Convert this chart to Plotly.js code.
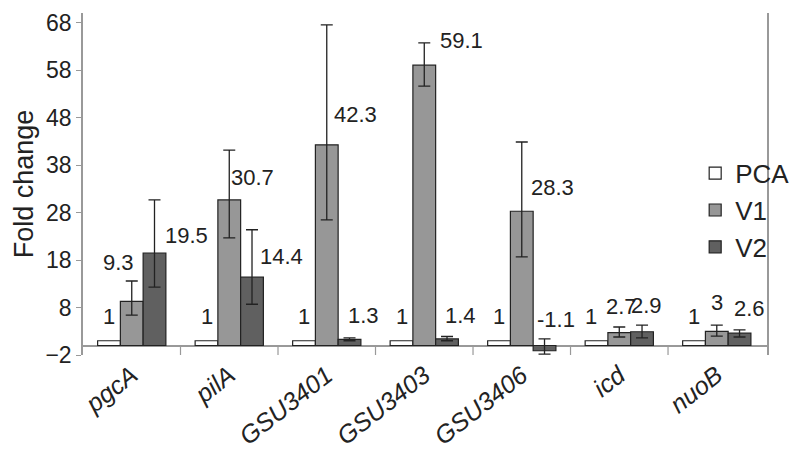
<!DOCTYPE html>
<html><head><meta charset="utf-8">
<script src="https://cdn.plot.ly/plotly-3.0.0.min.js"></script>
<style>body{margin:0;background:#fff}</style>
</head><body>
<div id="chart" style="width:807px;height:464px"></div>
<script>
const genes = ['pgcA', 'pilA', 'GSU3401', 'GSU3403', 'GSU3406', 'icd', 'nuoB'];
const pca = [1, 1, 1, 1, 1, 1, 1];
const v1 = [9.3, 30.7, 42.3, 59.1, 28.3, 2.7, 3];
const v1Plus = [4.3, 10.5, 25.3, 4.7, 14.6, 1.2, 1.3];
const v1Minus = [2.9, 8.0, 15.8, 4.4, 9.6, 0.9, 1.0];
const v2 = [19.5, 14.4, 1.3, 1.4, -1.1, 2.9, 2.6];
const v2Plus = [11.2, 10.0, 0.3, 0.5, 2.5, 1.4, 0.7];
const v2Minus = [7.2, 5.7, 0.3, 0.4, 0.7, 1.3, 0.8];

const font = 'Liberation Sans, Arial, sans-serif';
const ticks = genes.map(g => '<i>' + g + '</i>');

function series(name, y, plus, minus, color) {
  const t = {
    type: 'bar', name: name, x: genes, y: y,
    marker: {color: color, line: {color: '#222', width: 1.2}}
  };
  if (plus) t.error_y = {type: 'data', symmetric: false, array: plus, arrayminus: minus,
    visible: true, color: '#222', thickness: 1.3, width: 6};
  return t;
}

const data = [
  series('PCA', pca, null, null, '#ffffff'),
  series('V1', v1, v1Plus, v1Minus, '#979797'),
  series('V2', v2, v2Plus, v2Minus, '#606060')
];

// label offsets (px) as dragged in the original
const dx = [
  [0, 0, 0, 0, 0, -6, 0],
  [-13, 23, 29, 37, 31, 2, 0],
  [32, 30, 14, 14, 12, 4, 10]
];
const dy = [
  [22, 22, 22, 22, 22, 22, 22],
  [36, 20, 28, 22, 21, 24, 26],
  [15, 18, 21, 21, 24, 24, 22]
];
const groupPos = [-0.233, 0, 0.233];
const annotations = [];
[pca, v1, v2].forEach((s, k) => {
  s.forEach((v, i) => {
    annotations.push({
      x: i + groupPos[k], y: Math.max(v, 0), xref: 'x', yref: 'y',
      text: String(v), showarrow: false, yanchor: 'bottom',
      xshift: dx[k][i], yshift: dy[k][i] - 12,
      font: {family: font, size: 22, color: '#222'}
    });
  });
});

const layout = {
  width: 807, height: 464,
  margin: {l: 83, r: 17, t: 13, b: 109},
  paper_bgcolor: '#fff', plot_bgcolor: '#fff',
  barmode: 'group', bargap: 0.3, bargroupgap: 0,
  font: {family: font, size: 22, color: '#222'},
  showlegend: true,
  legend: {x: 0.895, y: 0.6, xanchor: 'left', yanchor: 'top', font: {size: 26},
    bgcolor: 'rgba(0,0,0,0)', itemwidth: 18, tracegroupgap: 6},
  xaxis: {
    tickvals: genes, ticktext: ticks, tickangle: -38,
    tickfont: {size: 25}, showline: false, showgrid: false, zeroline: false, ticks: ''
  },
  yaxis: {
    range: [-2, 70.1], tickvals: [-2, 8, 18, 28, 38, 48, 58, 68],
    tickfont: {size: 23},
    ticks: 'outside', ticklen: 5, tickcolor: '#999',
    showgrid: false, zeroline: true, zerolinecolor: '#999', zerolinewidth: 1.5,
    showline: true, linecolor: '#999', linewidth: 1.5, mirror: true,
    title: {text: 'Fold change', font: {size: 27}, standoff: 4}
  },
  shapes: genes.slice(1).map((g, i) => ({
    type: 'line', xref: 'x', yref: 'y', x0: i + 0.5, x1: i + 0.5, y0: -2, y1: 0,
    line: {color: '#999', width: 1.2}
  })),
  annotations: annotations
};

Plotly.newPlot('chart', data, layout, {displayModeBar: false});
</script>
</body></html>
